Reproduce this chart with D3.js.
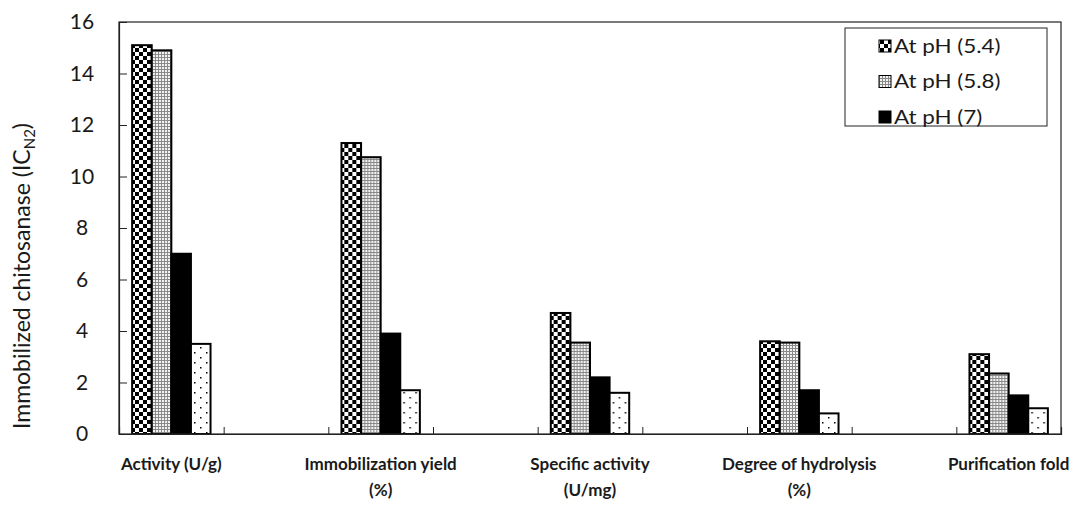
<!DOCTYPE html>
<html>
<head>
<meta charset="utf-8">
<script src="https://cdn.jsdelivr.net/npm/d3@7"></script>
<style>
  body { margin: 0; background: #fff; }
  svg { display: block; }
  text { font-family: Lato, "Open Sans", sans-serif; fill: #1a1a1a; }
</style>
</head>
<body>
<svg id="chart" width="1083" height="507"></svg>
<script>
// Category labels (line breaks marked with \n)
const categories = [
  "Activity (U/g)",
  "Immobilization yield\n(%)",
  "Specific activity\n(U/mg)",
  "Degree of hydrolysis\n(%)",
  "Purification fold"
];
// Series values, one per category
const ph54 = [15.1, 11.3, 4.7, 3.6, 3.1];
const ph58 = [14.9, 10.75, 3.55, 3.55, 2.35];
const ph7 = [7.0, 3.9, 2.2, 1.7, 1.5];
const series4 = [3.5, 1.7, 1.6, 0.8, 1.0];
const seriesNames = ["At pH (5.4)", "At pH (5.8)", "At pH (7)", "Series 4"];
const legendCount = 3;
const yTicks = [0, 2, 4, 6, 8, 10, 12, 14, 16];

const seriesValues = [ph54, ph58, ph7, series4];
const fills = ["url(#checker)", "url(#grid)", "#000", "url(#dots)"];

const svg = d3.select("#chart");
const plot = { left: 119, top: 22, right: 1061, bottom: 434 };

// --- fill patterns ---
const defs = svg.append("defs");
const checker = defs.append("pattern").attr("id", "checker")
  .attr("patternUnits", "userSpaceOnUse").attr("width", 8).attr("height", 8);
checker.append("rect").attr("width", 8).attr("height", 8).attr("fill", "#fff");
checker.append("rect").attr("width", 4).attr("height", 4).attr("fill", "#000");
checker.append("rect").attr("x", 4).attr("y", 4).attr("width", 4).attr("height", 4).attr("fill", "#000");

const grid = defs.append("pattern").attr("id", "grid")
  .attr("patternUnits", "userSpaceOnUse").attr("width", 3).attr("height", 3);
grid.append("rect").attr("width", 3).attr("height", 3).attr("fill", "#f2f2f2");
grid.append("rect").attr("width", 3).attr("height", 1).attr("fill", "#8a8a8a");
grid.append("rect").attr("width", 1).attr("height", 3).attr("fill", "#8a8a8a");

const dots = defs.append("pattern").attr("id", "dots")
  .attr("patternUnits", "userSpaceOnUse").attr("width", 12).attr("height", 10);
dots.append("rect").attr("width", 12).attr("height", 10).attr("fill", "#fff");
dots.append("rect").attr("x", 3).attr("y", 2).attr("width", 1.5).attr("height", 1.5).attr("fill", "#000");
dots.append("rect").attr("x", 9).attr("y", 7).attr("width", 1.5).attr("height", 1.5).attr("fill", "#000");

// --- scales: each category is followed by an empty slot ---
const slotCount = categories.length * 2 - 1;
const x = d3.scaleBand().domain(d3.range(slotCount)).range([plot.left, plot.right]);
const xInner = d3.scaleBand().domain(d3.range(seriesValues.length))
  .range([0, x.bandwidth()]).paddingInner(0).paddingOuter(0.67);
const y = d3.scaleLinear().domain([0, 16]).range([plot.bottom, plot.top]);
const slotEdges = d3.scaleLinear().domain([0, slotCount]).range([plot.left, plot.right]);

// --- bars ---
categories.forEach((cat, ci) => {
  const g = svg.append("g").attr("transform", `translate(${x(ci * 2)},0)`);
  g.selectAll("rect")
    .data(seriesValues.map((vals, si) => ({ si, v: vals[ci] })))
    .join("rect")
    .attr("x", d => xInner(d.si))
    .attr("width", xInner.bandwidth())
    .attr("y", d => y(d.v))
    .attr("height", d => y(0) - y(d.v))
    .attr("fill", d => fills[d.si])
    .attr("stroke", "#000")
    .attr("stroke-width", 2);
});

// --- plot frame ---
svg.append("rect")
  .attr("x", plot.left).attr("y", plot.top)
  .attr("width", plot.right - plot.left).attr("height", plot.bottom - plot.top)
  .attr("fill", "none").attr("stroke", "#222").attr("stroke-width", 1.2);

// --- y axis ---
const yAxis = svg.append("g").attr("transform", `translate(${plot.left},0)`)
  .call(d3.axisLeft(y).tickValues(yTicks).tickSize(-8).tickPadding(37));
yAxis.select(".domain").attr("stroke", "#222").attr("stroke-width", 1.2);
yAxis.selectAll(".tick line").attr("stroke", "#222");
yAxis.selectAll(".tick text")
  .attr("text-anchor", "middle")
  .style("font-family", "Lato, sans-serif")
  .style("font-size", "21px")
  .attr("fill", "#1a1a1a");

// --- x axis: ticks between slots ---
const xAxis = svg.append("g").attr("transform", `translate(0,${plot.bottom})`)
  .call(d3.axisBottom(slotEdges).ticks(slotCount).tickSize(-7).tickFormat(""));
xAxis.select(".domain").attr("stroke", "#222").attr("stroke-width", 1.2);
xAxis.selectAll(".tick line").attr("stroke", "#222");

// --- category labels ---
categories.forEach((cat, ci) => {
  const cx = x(ci * 2) + x.bandwidth() / 2;
  const t = svg.append("text")
    .attr("text-anchor", "middle")
    .style("font-size", "17px")
    .style("font-weight", "bold");
  cat.split("\n").forEach((line, li) => {
    t.append("tspan").attr("x", cx).attr("y", 470 + li * 26).text(line);
  });
});

// --- y axis title ---
const yTitle = svg.append("text")
  .attr("transform", "translate(30,276) rotate(-90)")
  .attr("text-anchor", "middle")
  .style("font-size", "23px");
yTitle.append("tspan").text("Immobilized chitosanase (IC");
yTitle.append("tspan").attr("dy", 5).style("font-size", "15px").text("N2");
yTitle.append("tspan").attr("dy", -5).text(")");

// --- legend ---
const legend = svg.append("g");
legend.append("rect")
  .attr("x", 845).attr("y", 28).attr("width", 202).attr("height", 98)
  .attr("fill", "#fff").attr("stroke", "#222").attr("stroke-width", 1);
const legendY = d3.scalePoint().domain(d3.range(legendCount)).range([46, 117]);
d3.range(legendCount).forEach(i => {
  legend.append("rect")
    .attr("x", 879).attr("y", legendY(i) - 6)
    .attr("width", 12).attr("height", 12)
    .attr("fill", fills[i]).attr("stroke", "#000").attr("stroke-width", 1);
  legend.append("text")
    .attr("transform", `translate(894,${legendY(i)}) scale(1.18,1)`)
    .attr("dy", "0.35em")
    .style("font-size", "19px")
    .text(seriesNames[i]);
});
</script>
</body>
</html>
